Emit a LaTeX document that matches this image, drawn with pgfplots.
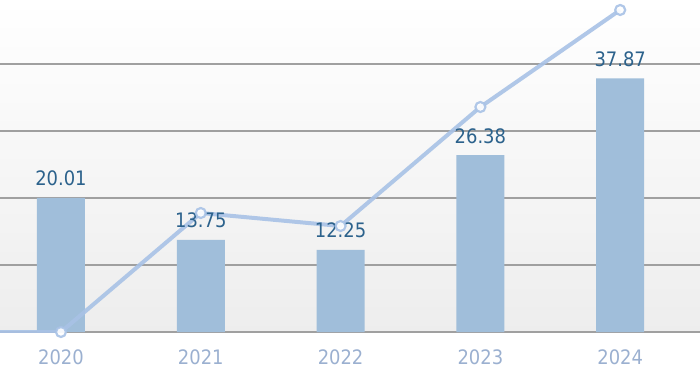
\documentclass[border=0pt]{standalone}
\usepackage{pgfplots}
\pgfplotsset{compat=1.18}
\usepackage{fontspec}
\setmainfont{DejaVu Sans Condensed}
\definecolor{barc}{RGB}{160,190,218}
\definecolor{linec}{RGB}{168,194,230}
\definecolor{lblc}{RGB}{44,98,140}
\definecolor{tickc}{RGB}{155,176,208}
\definecolor{gridc}{RGB}{160,160,160}
\begin{document}
\begin{tikzpicture}[x=1bp,y=1bp]
\useasboundingbox (0,0) rectangle (700,375);
\begin{axis}[
  at={(0bp,43bp)}, anchor=south west,
  scale only axis, width=700bp, height=332bp,
  xmin=-0.436, xmax=4.571, ymin=0, ymax=49.55,
  axis line style={draw=none},
  axis background/.style={shade, top color=white, bottom color=black!7},
  xtick={0,1,2,3,4}, xticklabels={2020,2021,2022,2023,2024},
  ytick={0,10,20,30,40}, yticklabels={},
  ymajorgrids, grid style={gridc, line width=1.8bp},
  major tick length=0,
  xticklabel style={font=\fontsize{20}{22}\selectfont, text=tickc, anchor=center, yshift=-25bp},
  clip=true,
]
\addplot[ybar, bar width=48bp, fill=barc, draw=none,
  nodes near coords, point meta=explicit symbolic,
  every node near coord/.append style={font=\fontsize{20}{22}\selectfont, text=lblc, anchor=base, yshift=12bp}]
  coordinates {(0,20.01)[20.01] (1,13.75)[13.75] (2,12.25)[12.25] (3,26.38)[26.38] (4,37.87)[37.87]};
\addplot[linec, opacity=0.9, line width=4bp, mark=*, mark size=5bp,
  mark options={fill=white, draw=linec, line width=2.2bp}]
  coordinates {(-1,0) (0,0) (1,17.76) (2,15.82) (3,33.58) (4,48.06)};
\end{axis}
\end{tikzpicture}
\end{document}
